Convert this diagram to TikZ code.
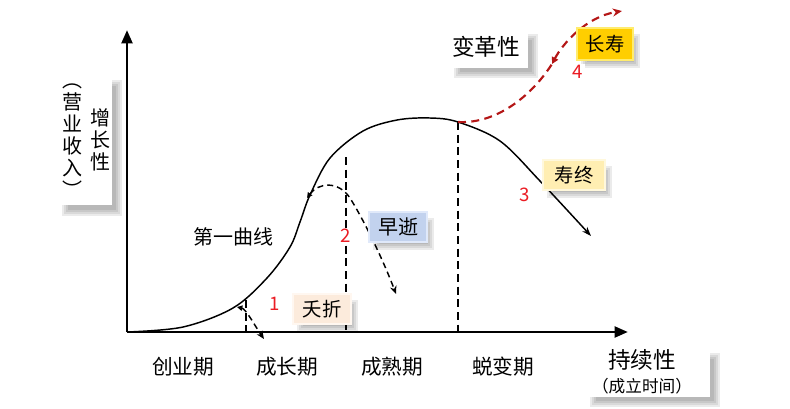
\documentclass[tikz,border=0pt]{standalone}
\usepackage{fontspec}
\setmainfont{Noto Sans CJK SC}
\usetikzlibrary{arrows.meta}

\definecolor{deepred}{RGB}{180,22,22}
\definecolor{numred}{RGB}{235,28,36}
\definecolor{goldface}{RGB}{255,206,0}
\definecolor{goldedge}{RGB}{255,236,110}
\definecolor{creamface}{RGB}{255,238,178}
\definecolor{creamedge}{RGB}{255,248,220}
\definecolor{blueface}{RGB}{194,210,238}
\definecolor{blueedge}{RGB}{224,233,250}
\definecolor{peachface}{RGB}{252,235,220}
\definecolor{peachedge}{RGB}{255,247,240}

% soft shadow: corners in picture units
\newcommand{\softshadow}[4]{\foreach \d in {0,2,4,6} {\fill [black,opacity=0.08] (#1+\d,#2+\d) rectangle (#3-\d,#4-\d);}}

\tikzset{every picture/.style={line width=0.75pt}}
\tikzset{
  panel/.style={fill=white,inner sep=0pt},
  tag/.style 2 args={fill=#1,draw=#2,line width=1.4pt,inner sep=0pt,minimum height=22.5pt},
  axis/.style={line width=2.2pt,-{Triangle[length=10pt,width=8pt]}},
  lifecurve/.style={line width=1.1pt,-{Stealth[length=7pt,width=5pt]}},
  stage/.style={line width=1.5pt,dash pattern={on 6pt off 3.5pt}},
  branch/.style={line width=1.1pt,dash pattern={on 4.5pt off 3pt},{Triangle[length=4pt,width=4pt]}-{Stealth[length=6pt,width=5pt]}},
  renewal/.style={deepred,line width=1.6pt,dash pattern={on 6pt off 4pt}},
  num/.style={text=numred,fill=white,inner sep=1pt,font=\fontsize{14}{14}\selectfont},
  stagename/.style={font=\fontsize{15.5}{16}\selectfont},
  vert/.style={align=center,inner sep=0pt,font=\fontsize{15}{16.5}\selectfont}
}

\begin{document}
\begin{tikzpicture}[x=0.75pt,y=0.75pt,yscale=-1,xscale=1]
\useasboundingbox (0,0) rectangle (790,408);

% axis points
\coordinate (O) at (127,332);
\coordinate (ytip) at (127,30);
\coordinate (xtip) at (628,332);

%Shape: white label panels
\softshadow{62}{80}{122}{216}
\softshadow{454}{34}{538}{78}
\softshadow{590}{353}{720}{407}
\node [panel,minimum width=42pt,minimum height=100pt] (ybox) at (84,138) {};
\node [panel,minimum width=60pt,minimum height=31pt] (revbox) at (488,47) {};
\node [panel,minimum width=94pt,minimum height=39pt] (tbox) at (647,371) {};

%Straight Lines: axes
\draw [axis] (O) -- (ytip);
\draw [axis] (O) -- (xtip);

%Straight Lines: stage borders
\coordinate (s1) at (246,300);
\coordinate (s2) at (346,157);
\coordinate (s3) at (458,122);
\draw [stage] (s1) -- (s1 |- O);
\draw [stage] (s2) -- (s2 |- O);
\draw [stage] (s3) -- (s3 |- O);

%Curve: first curve
\draw [lifecurve] plot [smooth,tension=0.55] coordinates {(127,332) (183,327) (233,308) (267,278) (290,247) (300,222) (310,195) (330,158) (363,131) (397,120) (430,118) (458,122) (500,141) (540,181) (591,236)};

%Curve: early branches
\coordinate (b1) at (237,307);
\coordinate (b1end) at (264,339);
\draw [branch] (b1) .. controls (246,309) and (255,326) .. (b1end);
\coordinate (b2) at (307,198);
\coordinate (b2end) at (396,294);
\draw [branch] (b2) .. controls (318,183) and (338,180) .. (350,198) .. controls (365,222) and (384,262) .. (b2end);

%Curve: renewal branch
\coordinate (r1) at (552,64);
\coordinate (r2) at (622,11);
\draw [renewal] (s3) .. controls (495,124) and (530,98) .. (r1);
\draw [renewal,{Triangle[length=5pt,width=5pt]}-{Stealth[length=7pt,width=6pt]}] (r1) .. controls (562,45) and (585,17) .. (r2);

%Shape: outcome tags
\softshadow{297}{300}{358}{332}
\softshadow{373}{218}{434}{250}
\softshadow{547}{166}{612}{198}
\softshadow{581}{34}{640}{68}
\node [tag={peachface}{peachedge},minimum width=43pt] (zhe) at (322,309) {};
\node [tag={blueface}{blueedge},minimum width=43pt] (shi) at (398,227) {};
\node [tag={creamface}{creamedge},minimum width=46.5pt] (zhong) at (574,175) {};
\node [tag={goldface}{goldedge},minimum width=42pt,minimum height=24pt] (shou) at (605,44) {};

% Text Node
\node [vert] (ylab) at (100,140) {增\\长\\性};
\node [vert] (ysub) at (72,141) {︵\\营\\业\\收\\入\\︶};
\node [font=\fontsize{17}{17}\selectfont] (rev) at (486,47) {变革性};
\node [font=\fontsize{17}{17}\selectfont] (xlab) at (642,360) {持续性};
\node [font=\fontsize{12.5}{12.5}\selectfont] (xsub) at (642,386) {（成立时间）};
\node [font=\fontsize{15}{15}\selectfont] (first) at (233,237) {第一曲线};
\node [font=\fontsize{14.5}{14.5}\selectfont] at (zhe) {夭折};
\node [font=\fontsize{15}{15}\selectfont] at (shi) {早逝};
\node [font=\fontsize{14.5}{14.5}\selectfont] at (zhong) {寿终};
\node [font=\fontsize{14.5}{14.5}\selectfont] at (shou) {长寿};
\node [num] (n1) at (275,304) {1};
\node [num] (n2) at (346,236) {2};
\node [num] (n3) at (525,195) {3};
\node [num] (n4) at (578,72) {4};
\node [stagename] (p1) at (183,367) {创业期};
\node [stagename] (p2) at (287,367) {成长期};
\node [stagename] (p3) at (392,367) {成熟期};
\node [stagename] (p4) at (503,367) {蜕变期};

\end{tikzpicture}
\end{document}
